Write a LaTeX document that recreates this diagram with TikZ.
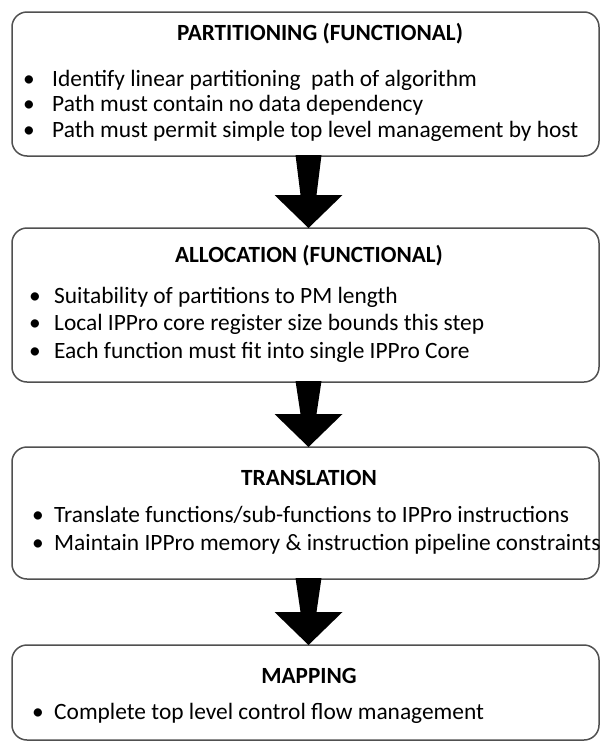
\documentclass[tikz,border=0pt]{standalone}
\usepackage{fontspec}
\setmainfont{Carlito}
\usetikzlibrary{calc}
\definecolor{boxgray}{RGB}{80,80,80}
\begin{document}
\begin{tikzpicture}[x=1pt,y=-1pt,
  stage/.style={draw=boxgray, line width=1.5pt, rounded corners=15pt, fill=white, inner sep=0, outer sep=0, anchor=north west, minimum width=587pt},
  ttl/.style={font=\fontsize{23.2}{28}\selectfont\bfseries, anchor=base, inner sep=0},
  itm/.style={font=\fontsize{23.4}{28}\selectfont, anchor=mid west, inner sep=0},
  bul/.style={font=\fontsize{23.4}{28}\selectfont, anchor=mid, inner sep=0},
  bigarrow/.style={fill=black, draw=none}]
\useasboundingbox (0,0) rectangle (601,742);

% boxes
\node[stage, minimum height=144pt] (b1) at (12,12) {};
\node[stage, minimum height=154pt] (b2) at (12,228) {};
\node[stage, minimum height=132pt] (b3) at (12,447) {};
\node[stage, minimum height=95pt]  (b4) at (12,645) {};

% box 1
\node[ttl] (t1) at (320,40) {PARTITIONING (FUNCTIONAL)};
\node[bul] (d11) at (29,84) {•};
\node[itm] (l11) at (52,84) {Identify linear partitioning\ \ path of algorithm};
\node[bul] (d12) at (29,109) {•};
\node[itm] (l12) at (52,109) {Path must contain no data dependency};
\node[bul] (d13) at (29,135) {•};
\node[itm] (l13) at (52,135) {Path must permit simple top level management by host};

% box 2
\node[ttl] (t2) at (309,262) {ALLOCATION (FUNCTIONAL)};
\node[bul] (d21) at (35,301) {•};
\node[itm] (l21) at (54,301) {Suitability of partitions to PM length};
\node[bul] (d22) at (35,328) {•};
\node[itm] (l22) at (54,328) {Local IPPro core register size bounds this step};
\node[bul] (d23) at (35,356) {•};
\node[itm] (l23) at (54,356) {Each function must fit into single IPPro Core};

% box 3
\node[ttl] (t3) at (309,485) {TRANSLATION};
\node[bul] (d31) at (38,520) {•};
\node[itm] (l31) at (54,520) {Translate functions/sub-functions to IPPro instructions};
\node[bul] (d32) at (38,548) {•};
\node[itm] (l32) at (54,548) {Maintain IPPro memory \& instruction pipeline constraints};

% box 4
\node[ttl] (t4) at (309,683) {MAPPING};
\node[bul] (d41) at (38,717) {•};
\node[itm] (l41) at (54,717) {Complete top level control flow management};

% block arrows
\foreach \a/\b in {b1/b2, b2/b3, b3/b4}{
  \fill[bigarrow] ($(\a.south)+(-10,-1)$) -- ($(\a.south)+(16,-1)$)
    -- ($(\b.north)+(11,-33)$) -- ($(\b.north)+(37,-33)$)
    -- ($(\b.north)+(3,0)$)
    -- ($(\b.north)+(-31,-33)$) -- ($(\b.north)+(-5,-33)$) -- cycle;
}
\end{tikzpicture}
\end{document}
